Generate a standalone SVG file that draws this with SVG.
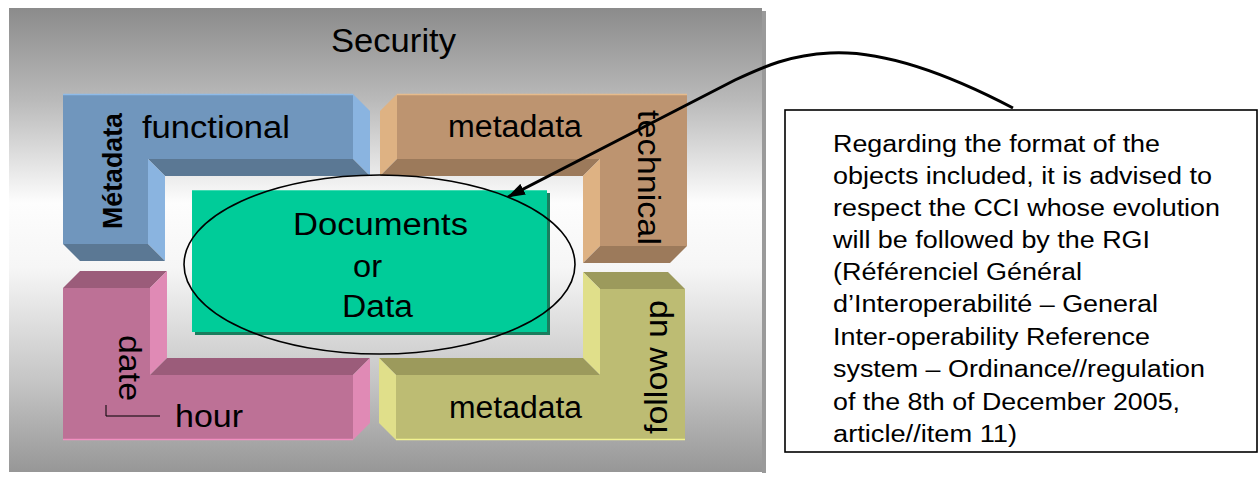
<svg xmlns="http://www.w3.org/2000/svg" width="1260" height="479" viewBox="0 0 1260 479">
<defs>
<linearGradient id="bg" x1="0" y1="0" x2="0" y2="1">
<stop offset="0" stop-color="#8b8b8b"/>
<stop offset="0.2" stop-color="#bababa"/>
<stop offset="0.42" stop-color="#fdfdfd"/>
<stop offset="0.56" stop-color="#f6f6f6"/>
<stop offset="0.8" stop-color="#c6c6c6"/>
<stop offset="1" stop-color="#979797"/>
</linearGradient>
<marker id="ah" markerUnits="userSpaceOnUse" viewBox="0 0 18 12" refX="17" refY="6" markerWidth="18" markerHeight="12" orient="auto">
<path d="M0,0 L18,6 L0,12 Z" fill="#000"/>
</marker>
<style>
text{font-family:"Liberation Sans",Arial,sans-serif;fill:#000}
.lbl{font-size:31px}
.note{font-size:23.5px}
.bf{fill:#7096bd}.bd{fill:#5b7894}.bl{fill:#8ab4e0}
.rf{fill:#bd9470}.rd{fill:#9c7a5b}.rl{fill:#deb283}
.pf{fill:#bd7196}.pd{fill:#9b5c7a}.pl{fill:#e08ab5}
.yf{fill:#bdbc73}.yd{fill:#9c9a5c}.yl{fill:#e0df8a}
</style>
</defs>

<g id="background">
<rect x="762" y="11" width="4" height="462" fill="#9a9a9a"/>
<rect x="9" y="8" width="753" height="464" fill="url(#bg)"/>
<text x="331" y="52" font-size="34" textLength="125" lengthAdjust="spacingAndGlyphs">Security</text>
</g>

<g id="block-functional">
<polygon class="bl" points="353,94 370,111 370,176 353,159"/>
<polygon class="bd" points="148,159 353,159 370,176 165,176"/>
<polygon class="bl" points="148,159 165,176 165,261 148,244"/>
<polygon class="bd" points="63,244 148,244 165,261 80,261"/>
<polygon class="bf" points="63,94 353,94 353,159 148,159 148,244 63,244"/>
<line x1="63" y1="94.5" x2="353" y2="94.5" stroke="#8fbbe8" stroke-width="1.5"/>
<text class="lbl" x="142" y="138" textLength="148" lengthAdjust="spacingAndGlyphs">functional</text>
<text transform="translate(122,229) rotate(-90)" font-size="27" font-weight="bold" textLength="116" lengthAdjust="spacingAndGlyphs">Métadata</text>
</g>

<g id="block-technical">
<polygon class="rl" points="397,94 380,111 380,176 397,159"/>
<polygon class="rd" points="397,159 600,159 583,176 380,176"/>
<polygon class="rl" points="600,159 583,176 583,263 600,246"/>
<polygon class="rd" points="600,246 687,246 670,263 583,263"/>
<polygon class="rf" points="397,94 687,94 687,246 600,246 600,159 397,159"/>
<line x1="397" y1="94.5" x2="687" y2="94.5" stroke="#e6bb8c" stroke-width="1.5"/>
<text class="lbl" x="448" y="137" textLength="134" lengthAdjust="spacingAndGlyphs">metadata</text>
<text class="lbl" transform="translate(638,110) rotate(90)" textLength="135" lengthAdjust="spacingAndGlyphs">technical</text>
</g>

<g id="block-date">
<polygon class="pd" points="63,288 80,271 167,271 150,288"/>
<polygon class="pl" points="150,288 167,271 167,358 150,375"/>
<polygon class="pd" points="150,375 167,358 370,358 353,375"/>
<polygon class="pl" points="353,375 370,358 370,423 353,440"/>
<polygon class="pf" points="63,288 150,288 150,375 353,375 353,440 63,440"/>
<line x1="63" y1="439.5" x2="353" y2="439.5" stroke="#f090c0" stroke-width="1.5"/>
<text class="lbl" transform="translate(119,335) rotate(90)" textLength="66" lengthAdjust="spacingAndGlyphs">date</text>
<text class="lbl" x="175" y="427" textLength="68" lengthAdjust="spacingAndGlyphs">hour</text>
<polyline points="106,405 106,416 160,416" fill="none" stroke="#000" stroke-width="1"/>
</g>

<g id="block-followup">
<polygon class="yd" points="600,289 583,272 668,272 685,289"/>
<polygon class="yl" points="600,289 583,272 583,358 600,375"/>
<polygon class="yd" points="396,375 379,358 583,358 600,375"/>
<polygon class="yl" points="396,375 379,358 379,423 396,440"/>
<polygon class="yf" points="396,375 600,375 600,289 685,289 685,440 396,440"/>
<line x1="396" y1="439.5" x2="685" y2="439.5" stroke="#f2f290" stroke-width="1.5"/>
<text class="lbl" x="449" y="418" textLength="133" lengthAdjust="spacingAndGlyphs">metadata</text>
<text class="lbl" transform="translate(667,434) rotate(-90)" textLength="134" lengthAdjust="spacingAndGlyphs">follow up</text>
</g>

<g id="documents">
<rect x="195" y="193" width="355" height="142" fill="#1a7d5e"/>
<rect x="192" y="190" width="355" height="142" fill="#00cc99"/>
<line x1="192" y1="190.5" x2="547" y2="190.5" stroke="#40dbb2" stroke-width="1"/>
<text class="lbl" x="293" y="235" textLength="175" lengthAdjust="spacingAndGlyphs">Documents</text>
<text class="lbl" x="353" y="277" textLength="29" lengthAdjust="spacingAndGlyphs">or</text>
<text class="lbl" x="342" y="317" textLength="71" lengthAdjust="spacingAndGlyphs">Data</text>
<ellipse cx="379.5" cy="264.5" rx="195.5" ry="89.5" fill="none" stroke="#000" stroke-width="1.6"/>
</g>

<g id="note">
<rect x="785" y="110" width="472" height="342" fill="#fff" stroke="#000" stroke-width="1.6"/>
<text class="note" x="833" y="152" textLength="327" lengthAdjust="spacingAndGlyphs">Regarding the format of the</text>
<text class="note" x="833" y="184" textLength="379" lengthAdjust="spacingAndGlyphs">objects included, it is advised to</text>
<text class="note" x="833" y="216" textLength="387" lengthAdjust="spacingAndGlyphs">respect the CCI whose evolution</text>
<text class="note" x="833" y="248" textLength="317" lengthAdjust="spacingAndGlyphs">will be followed by the RGI</text>
<text class="note" x="833" y="280" textLength="249" lengthAdjust="spacingAndGlyphs">(Référenciel Général</text>
<text class="note" x="833" y="312" textLength="325" lengthAdjust="spacingAndGlyphs">d’Interoperabilité – General</text>
<text class="note" x="833" y="345" textLength="317" lengthAdjust="spacingAndGlyphs">Inter-operability Reference</text>
<text class="note" x="833" y="377" textLength="372" lengthAdjust="spacingAndGlyphs">system – Ordinance//regulation</text>
<text class="note" x="833" y="410" textLength="347" lengthAdjust="spacingAndGlyphs">of the 8th of December 2005,</text>
<text class="note" x="833" y="442" textLength="184" lengthAdjust="spacingAndGlyphs">article//item 11)</text>
</g>

<g id="connectors">
<path d="M1013,108 C950,75 885,50 830,53 C790,55 765,66 735,80 L508,197" fill="none" stroke="#000" stroke-width="3" marker-end="url(#ah)"/>
</g>
</svg>
